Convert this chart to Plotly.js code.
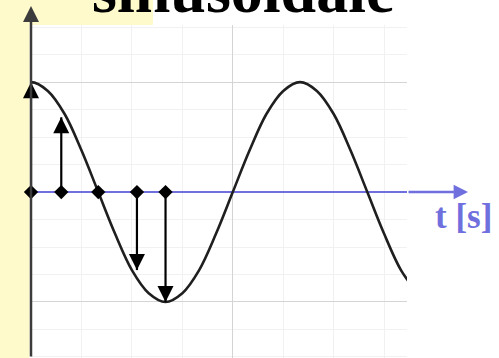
<!DOCTYPE html>
<html>
<head>
<meta charset="utf-8">
<script src="https://cdn.plot.ly/plotly-3.0.1.min.js"></script>
<style>
  html, body { margin: 0; padding: 0; background: #ffffff; }
  #chart { width: 499px; height: 358px; }
</style>
</head>
<body>
<div id="chart"></div>
<script>
// Time samples (one period = 8 units) and the cosine wave values along them
const t = [-0.5, 0, 0.5, 1, 1.5, 2, 2.5, 3, 3.5, 4, 4.5, 5, 5.5,
           6, 6.5, 7, 7.5, 8, 8.5, 9, 9.5, 10, 10.5, 11, 11.5];
const wave = [0.92, 1, 0.92, 0.71, 0.38, 0, -0.38, -0.71, -0.92, -1, -0.92, -0.71, -0.38,
              0, 0.38, 0.71, 0.92, 1, 0.92, 0.71, 0.38, 0, -0.38, -0.71, -0.92];

// Sampling instants and the sampled amplitudes shown as arrows
const sampleT = [0, 0.9, 2, 3.15, 4];
const sampleV = [1, 0.68, 0, -0.71, -1];

// Texts
const titleText = 'sinusoidale';
const axisLabel = 't [s]';

// Frame geometry in pixels
const W = 499, H = 358;
const M = { l: 31, r: 92, t: 25, b: 0 };
const PW = W - M.l - M.r, PH = H - M.t - M.b;
const px = x => (x - M.l) / PW;          // pixel x -> paper x
const py = y => (H - M.b - y) / PH;      // pixel y -> paper y

const BLUE = '#6f6fde';
const YELLOW = '#fffacb';

// Arrow shafts: one segment per non-zero sample, from the axis to the value
const shaftX = [], shaftY = [];
sampleT.forEach((ti, i) => {
  if (sampleV[i] !== 0) { shaftX.push(ti, ti, null); shaftY.push(0, sampleV[i], null); }
});
const headT = sampleT.filter((_, i) => sampleV[i] !== 0);
const headV = sampleV.filter(v => v !== 0);

const traces = [
  { // the sinusoid
    x: t, y: wave, type: 'scatter', mode: 'lines',
    line: { color: '#1f1f1f', width: 2.6, shape: 'spline', smoothing: 1 },
    hoverinfo: 'skip'
  },
  { // shafts
    x: shaftX, y: shaftY, type: 'scatter', mode: 'lines',
    line: { color: '#000000', width: 2.2 }, connectgaps: false, hoverinfo: 'skip'
  },
  { // arrow heads at the sampled values
    x: headT, y: headV, type: 'scatter', mode: 'markers', cliponaxis: false,
    marker: {
      symbol: headV.map(v => v > 0 ? 'arrow-up' : 'arrow-down'),
      size: 16, color: '#000000', line: { width: 0 }
    },
    hoverinfo: 'skip'
  },
  { // sampling points on the time axis
    x: sampleT, y: sampleT.map(() => 0), type: 'scatter', mode: 'markers', cliponaxis: false,
    marker: { symbol: 'diamond', size: 11, color: '#000000', line: { width: 0 } },
    hoverinfo: 'skip'
  }
];

const layout = {
  width: W, height: H,
  margin: { l: M.l, r: M.r, t: M.t, b: M.b, pad: 0 },
  paper_bgcolor: '#ffffff', plot_bgcolor: '#ffffff',
  showlegend: false,
  xaxis: {
    range: [0, 11.18], showticklabels: false, ticks: '',
    showgrid: true, tick0: 0, dtick: 6, gridcolor: '#d4d4d4', gridwidth: 1,
    minor: { showgrid: true, tick0: 0, dtick: 1.5, gridcolor: '#f1f1f1', gridwidth: 1 },
    zeroline: false, showline: false, fixedrange: true
  },
  yaxis: {
    range: [-1.51, 1.52], showticklabels: false, ticks: '',
    showgrid: true, tick0: 0, dtick: 1, gridcolor: '#d4d4d4', gridwidth: 1,
    minor: { showgrid: true, tick0: 0, dtick: 0.25, gridcolor: '#f1f1f1', gridwidth: 1 },
    zeroline: true, zerolinecolor: BLUE, zerolinewidth: 2.5,
    showline: false, fixedrange: true
  },
  shapes: [
    { type: 'rect', xref: 'paper', yref: 'paper', layer: 'below',
      x0: px(0), x1: px(29.5), y0: py(H), y1: py(0),
      fillcolor: YELLOW, line: { width: 0 } },
    { type: 'rect', xref: 'paper', yref: 'paper', layer: 'below',
      x0: px(0), x1: px(153), y0: py(25), y1: py(0),
      fillcolor: YELLOW, line: { width: 0 } }
  ],
  annotations: [
    { // vertical axis with arrow
      xref: 'paper', yref: 'paper', x: px(M.l), y: py(6),
      text: '', showarrow: true, axref: 'pixel', ayref: 'pixel', ax: 0, ay: H - 6,
      arrowhead: 2, arrowsize: 1.28, arrowwidth: 2.5, arrowcolor: '#3c3c3c', standoff: 0
    },
    { // time axis continuation with arrow
      xref: 'paper', yref: 'y', x: px(468), y: 0,
      text: '', showarrow: true, axref: 'pixel', ayref: 'pixel', ax: -(468 - (W - M.r)), ay: 0,
      arrowhead: 2, arrowsize: 1.15, arrowwidth: 2.5, arrowcolor: BLUE, standoff: 0
    },
    { // title
      xref: 'paper', yref: 'paper', x: px(243), y: py(-9.1),
      xanchor: 'center', yanchor: 'middle', showarrow: false,
      text: '<b>' + titleText + '</b>',
      font: { family: 'Liberation Serif, Times New Roman, serif', size: 64, color: '#000000' }
    },
    { // time axis label
      xref: 'paper', yref: 'paper', x: px(433), y: py(228 - 0.3375 * 35),
      xanchor: 'left', yanchor: 'middle', showarrow: false,
      text: '<b>' + axisLabel + '</b>',
      font: { family: 'Liberation Serif, Times New Roman, serif', size: 35, color: BLUE }
    }
  ]
};

Plotly.newPlot('chart', traces, layout, { staticPlot: true, displayModeBar: false });
</script>
</body>
</html>
